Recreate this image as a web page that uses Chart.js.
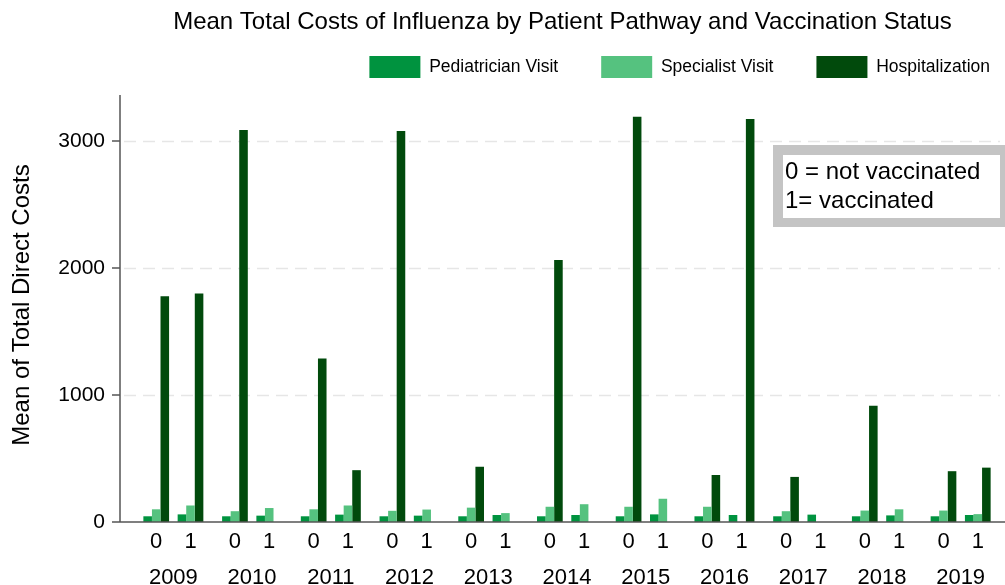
<!DOCTYPE html>
<html>
<head>
<meta charset="utf-8">
<script src="https://cdn.jsdelivr.net/npm/chart.js@4.4.0/dist/chart.umd.min.js"></script>
<style>
    body { margin: 0; background: #fff; }
    #wrap { width: 1005px; height: 585px; }
</style>
</head>
<body>
<div id="wrap"><canvas id="costChart" width="1005" height="585"></canvas></div>
<script>
// values (mean cost, by year and vaccination status)
const years = ['2009', '2010', '2011', '2012', '2013', '2014', '2015', '2016', '2017', '2018', '2019'];
const statusLabels = ['0', '1'];
const seriesNames = ['Pediatrician Visit', 'Specialist Visit', 'Hospitalization'];

const pediatricianNotVacc = [45, 45, 45, 45, 45, 45, 45, 45, 45, 45, 45];
const pediatricianVacc = [60, 50, 58, 50, 55, 55, 60, 55, 58, 52, 55];
const specialistNotVacc = [100, 85, 100, 88, 113, 120, 120, 120, 85, 90, 90];
const specialistVacc = [130, 110, 130, 98, 70, 140, 183, 0, 0, 100, 62];
const hospitalNotVacc = [1778, 3086, 1287, 3078, 435, 2062, 3190, 370, 355, 915, 400];
const hospitalVacc = [1800, 0, 408, 0, 0, 0, 0, 3173, 0, 0, 428];

const yTicks = [0, 1000, 2000, 3000];

const colors = ['#00933f', '#55c27f', '#014a0c'];
const FONT = "'Liberation Sans', Arial, Helvetica, sans-serif";

Chart.defaults.font.family = FONT;
Chart.defaults.color = '#000';

function makeSet(name, data, color) {
    return { label: name, data: data, backgroundColor: color, borderWidth: 0 };
}

// spacer keeps a small gap between the "0" and "1" bar groups of a year
const datasets = [
    makeSet(seriesNames[0], pediatricianNotVacc, colors[0]),
    makeSet(seriesNames[1], specialistNotVacc, colors[1]),
    makeSet(seriesNames[2], hospitalNotVacc, colors[2]),
    makeSet('', years.map(() => null), 'rgba(0,0,0,0)'),
    makeSet(seriesNames[0], pediatricianVacc, colors[0]),
    makeSet(seriesNames[1], specialistVacc, colors[1]),
    makeSet(seriesNames[2], hospitalVacc, colors[2])
];

const framePlugin = {
    id: 'frame',
    afterLayout(chart) {
        // legend sits a bit further right than the chart area
        chart.legend.left += 33;
        chart.legend.right += 33;
    },
    beforeDatasetsDraw(chart) {
        const ctx = chart.ctx;
        const area = chart.chartArea;
        const y = chart.scales.y;
        const x0 = area.left - 14;
        ctx.save();
        // dashed gridlines
        ctx.strokeStyle = '#e6e6e6';
        ctx.lineWidth = 1.5;
        ctx.setLineDash([12, 7]);
        yTicks.slice(1).forEach(v => {
            const py = Math.round(y.getPixelForValue(v)) + 0.5;
            ctx.beginPath();
            ctx.moveTo(x0 + 4, py);
            ctx.lineTo(chart.width - 5, py);
            ctx.stroke();
        });
        ctx.restore();
    },
    afterDatasetsDraw(chart) {
        const ctx = chart.ctx;
        const area = chart.chartArea;
        const y = chart.scales.y;
        const x0 = area.left - 14;
        const base = y.getPixelForValue(0);
        ctx.save();
        ctx.strokeStyle = '#555';
        ctx.lineWidth = 1.5;
        ctx.beginPath();
        ctx.moveTo(x0, y.getPixelForValue(3362));
        ctx.lineTo(x0, base);
        ctx.lineTo(chart.width, base);
        yTicks.forEach(v => {
            const py = y.getPixelForValue(v);
            ctx.moveTo(x0 - 8, py);
            ctx.lineTo(x0, py);
        });
        ctx.stroke();

        // 0 / 1 labels under each bar group
        ctx.fillStyle = '#000';
        ctx.font = '22px ' + FONT;
        ctx.textAlign = 'center';
        ctx.textBaseline = 'middle';
        const metaNot = chart.getDatasetMeta(1);
        const metaVac = chart.getDatasetMeta(5);
        years.forEach((yr, i) => {
            ctx.fillText(statusLabels[0], metaNot.data[i].x, 542);
            ctx.fillText(statusLabels[1], metaVac.data[i].x, 542);
        });

        // title
        ctx.font = '24px ' + FONT;
        ctx.fillText('Mean Total Costs of Influenza by Patient Pathway and Vaccination Status',
            (x0 + chart.width) / 2, 22);

        // note box
        ctx.fillStyle = '#c4c4c4';
        ctx.fillRect(773, 145, 232, 82);
        ctx.fillStyle = '#fff';
        ctx.fillRect(783, 155, 217, 63);
        ctx.fillStyle = '#000';
        ctx.font = '24px ' + FONT;
        ctx.textAlign = 'left';
        ctx.fillText('0 = not vaccinated', 785, 172);
        ctx.fillText('1= vaccinated', 785, 201);
        ctx.restore();
    }
};

new Chart(document.getElementById('costChart'), {
    type: 'bar',
    data: { labels: years, datasets: datasets },
    options: {
        responsive: false,
        animation: false,
        layout: { padding: { top: 13, right: 5, left: 0, bottom: 0 } },
        datasets: { bar: { categoryPercentage: 0.762, barPercentage: 1 } },
        plugins: {
            tooltip: { enabled: false },
            title: { display: false },
            legend: {
                position: 'top',
                align: 'end',
                labels: {
                    boxWidth: 51,
                    boxHeight: 22,
                    padding: 43,
                    font: { size: 17.5 },
                    filter: (item) => item.datasetIndex < 3
                }
            }
        },
        scales: {
            x: {
                grid: { display: false, tickLength: 40 },
                border: { display: false },
                ticks: { font: { size: 22 }, padding: 3, maxRotation: 0 },
                afterFit: (scale) => { scale.height = 63; }
            },
            y: {
                min: 0,
                max: 3417,
                grid: { display: false, drawTicks: false },
                border: { display: false },
                afterBuildTicks: (scale) => {
                    scale.ticks = yTicks.map(v => ({ value: v }));
                },
                ticks: { font: { size: 21 }, padding: 29, callback: (v) => String(v) },
                title: {
                    display: true,
                    text: 'Mean of Total Direct Costs',
                    font: { size: 24 },
                    padding: { top: 8, bottom: 0 }
                },
                afterFit: (scale) => { scale.width = 134; }
            }
        }
    },
    plugins: [framePlugin]
});
</script>
</body>
</html>
